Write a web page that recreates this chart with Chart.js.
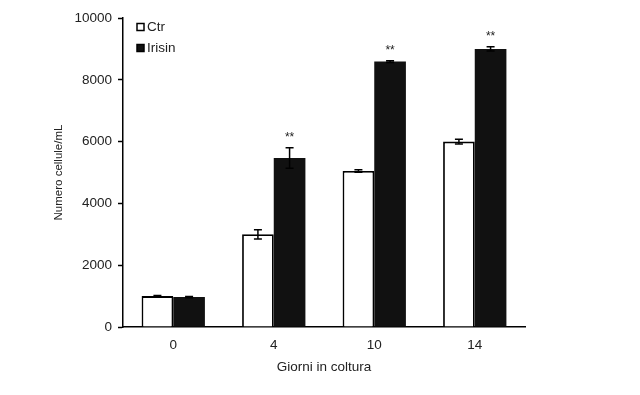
<!DOCTYPE html>
<html>
<head>
<meta charset="utf-8">
<script src="https://cdn.jsdelivr.net/npm/chart.js@4/dist/chart.umd.min.js"></script>
<style>
html,body{margin:0;padding:0;background:#fff;}
#wrap{width:640px;height:395px;position:relative;}
</style>
</head>
<body>
<div id="wrap"><canvas id="c" width="640" height="395"></canvas></div>
<script>
const categories = ['0', '4', '10', '14'];
const ctrValues = [1000, 3000, 5050, 6000];
const ctrErrors = [20, 150, 40, 80];
const irisinValues = [970, 5470, 8590, 9000];
const irisinErrors = [20, 330, 30, 70];
const significance = ['', '**', '**', '**'];
const yTicks = [0, 2000, 4000, 6000, 8000, 10000];

const errorsByDataset = [ctrErrors, irisinErrors];
const FONT = '"Liberation Sans", Arial, sans-serif';
const FS = 13.5;

const errPlugin = {
  id: 'errbars',
  afterDatasetsDraw(chart) {
    const ctx = chart.ctx;
    const y = chart.scales.y;
    ctx.save();
    ctx.strokeStyle = '#000';
    ctx.lineWidth = 1.5;
    chart.data.datasets.forEach((ds, di) => {
      const meta = chart.getDatasetMeta(di);
      meta.data.forEach((bar, i) => {
        const v = ds.data[i], e = errorsByDataset[di][i];
        const yt = y.getPixelForValue(v + e), yb = y.getPixelForValue(v - e);
        const x = bar.x, cw = 4;
        ctx.beginPath();
        ctx.moveTo(x, yt); ctx.lineTo(x, yb);
        ctx.moveTo(x - cw, yt); ctx.lineTo(x + cw, yt);
        ctx.moveTo(x - cw, yb); ctx.lineTo(x + cw, yb);
        ctx.stroke();
        if (di === 1 && significance[i]) {
          ctx.fillStyle = '#222';
          ctx.font = '12px ' + FONT;
          ctx.textAlign = 'center';
          ctx.textBaseline = 'bottom';
          ctx.fillText(significance[i], x, yt - 4);
        }
      });
    });
    // legend
    const ca = chart.chartArea;
    ctx.font = FS + 'px ' + FONT;
    ctx.textAlign = 'left';
    ctx.textBaseline = 'middle';
    chart.data.datasets.forEach((ds, di) => {
      const lx = ca.left + 14, ly = ca.top + 9 + di * 21;
      ctx.lineWidth = 1.5;
      ctx.strokeStyle = '#000';
      ctx.fillStyle = ds.backgroundColor;
      ctx.fillRect(lx, ly - 3.5, 7, 7);
      ctx.strokeRect(lx, ly - 3.5, 7, 7);
      ctx.fillStyle = '#222';
      ctx.fillText(ds.label, lx + 10, ly);
    });
    ctx.restore();
  }
};

new Chart(document.getElementById('c'), {
  type: 'bar',
  data: {
    labels: categories,
    datasets: [
      { label: 'Ctr', data: ctrValues, backgroundColor: '#ffffff', borderColor: '#000', borderWidth: 1.8, borderSkipped: 'bottom' },
      { label: 'Irisin', data: irisinValues, backgroundColor: '#111111', borderColor: '#111', borderWidth: 0 }
    ]
  },
  options: {
    responsive: false,
    animation: false,
    devicePixelRatio: 1,
    categoryPercentage: 0.63,
    barPercentage: 1.0,
    layout: { padding: { left: 48, right: 115, top: 18, bottom: 16 } },
    plugins: { legend: { display: false }, tooltip: { enabled: false } },
    scales: {
      x: {
        offset: true,
        grid: { display: true, drawOnChartArea: false, drawTicks: false },
        border: { color: '#000', width: 1.5 },
        ticks: { color: '#222', font: { family: FONT, size: FS }, padding: 10 },
        title: { display: true, text: 'Giorni in coltura', color: '#222', font: { family: FONT, size: FS }, padding: { top: 4 } },
        afterFit(s) { s.height = 52; }
      },
      y: {
        min: 0, max: 10000,
        afterBuildTicks(s) { s.ticks = yTicks.map(v => ({ value: v })); },
        grid: { display: true, drawOnChartArea: false, drawTicks: true, tickLength: 5, color: '#000', tickWidth: 1.5 },
        border: { color: '#000', width: 1.5 },
        ticks: { color: '#222', font: { family: FONT, size: FS }, padding: 6, callback: v => String(v) },
        title: { display: true, text: 'Numero cellule/mL', color: '#222', font: { family: FONT, size: 11.5 } },
        afterFit(s) { s.width = 75; }
      }
    }
  },
  plugins: [errPlugin]
});
</script>
</body>
</html>
